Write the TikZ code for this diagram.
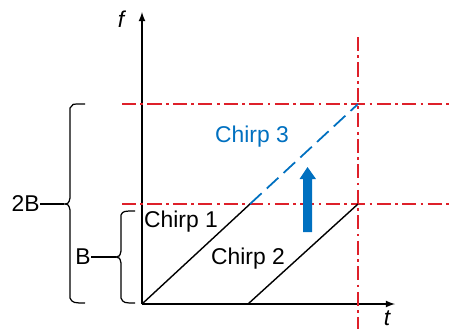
\documentclass[tikz,border=0pt]{standalone}
\usepackage{fontspec}
\setmainfont{Liberation Sans}
\definecolor{chirpblue}{RGB}{0,112,192}
\definecolor{limred}{RGB}{222,32,42}
\tikzset{
  axis/.style={line width=0.8pt,->},
  chirp/.style={line width=0.8pt},
  limit/.style={limred,line width=0.9pt,dash pattern=on 8pt off 2.5pt on 1.5pt off 2.5pt},
  lbl/.style={font=\fontsize{13}{15}\selectfont,inner sep=0pt},
  bracket/.style={line width=0.7pt}
}
\begin{document}
\begin{tikzpicture}[>=latex,x=0.02cm,y=-0.02cm]
\useasboundingbox (0,0) rectangle (453,329);
% axes
\coordinate (O) at (142,304);
\coordinate (ftop) at (142,12);
\coordinate (tend) at (395,304);
\draw[axis] (O) -- (ftop);
\draw[axis] (O) -- (tend);
\node[lbl] (flab) at (121,19) {\itshape f};
\node[lbl] (tlab) at (387,318) {\itshape t};
% limits
\coordinate (hiL) at (122,104); \coordinate (hiR) at (453,104);
\coordinate (loL) at (122,204); \coordinate (loR) at (453,204);
\coordinate (vT) at (358,37); \coordinate (vB) at (358,329);
\draw[limit] (hiL) -- (hiR);
\draw[limit] (loL) -- (loR);
\draw[limit] (vT) -- (vB);
% chirps
\coordinate (c1end) at (250,204);
\coordinate (c2start) at (248,304);
\coordinate (c2end) at (358,204);
\coordinate (c3end) at (358,104);
\draw[chirp] (O) -- (c1end);
\draw[chirp] (c2start) -- (c2end);
\draw[chirpblue,line width=1pt,dash pattern=on 9pt off 4pt] (c1end) -- (c3end);
\node[lbl] (ch1) at (181,222) {Chirp 1};
\node[lbl] (ch2) at (248,259) {Chirp 2};
\node[lbl,text=chirpblue] (ch3) at (252,137) {Chirp 3};
% shift arrow
\fill[chirpblue] (303,232) -- (303,179) -- (299.5,179) -- (307.5,167) -- (316,179) -- (312,179) -- (312,232) -- cycle;
% brackets
\draw[bracket] (85,104) .. controls (68,104) and (75,104) .. (70,108)
  -- (70,198) .. controls (69,203) and (68,204) .. (64,204)
  .. controls (68,204) and (69,205) .. (70,210)
  -- (70,298) .. controls (72,303) and (75,303) .. (85,303);
\coordinate (bigtip) at (64,204);
\node[lbl,anchor=east] (twoB) at (40,204) {2B};
\draw[bracket] (twoB.east) -- (bigtip);
\draw[bracket] (135,211) .. controls (124,211) and (123,211) .. (121,215)
  -- (121,251) .. controls (120,256) and (119,257) .. (116,257)
  .. controls (119,257) and (120,258) .. (121,263)
  -- (121,298) .. controls (123,303) and (125,303) .. (135,303);
\coordinate (smalltip) at (116,257);
\node[lbl,anchor=east] (oneB) at (91,257) {B};
\draw[bracket] (oneB.east) -- (smalltip);
\end{tikzpicture}
\end{document}
